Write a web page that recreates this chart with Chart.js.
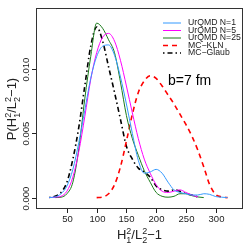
<!DOCTYPE html>
<html>
<head>
<meta charset="utf-8">
<script src="https://cdn.jsdelivr.net/npm/chart.js@4.4.1/dist/chart.umd.min.js"></script>
<style>
  html, body { margin: 0; padding: 0; background: #fff; }
  #wrap { width: 249px; height: 249px; }
</style>
</head>
<body>
<div id="wrap"><canvas id="myChart" width="249" height="249"></canvas></div>
<script>
// x grid shared by all curves
const xValues = [20, 30, 40, 50, 60, 70, 80, 90, 100, 110, 120, 130, 140, 150, 160, 170,
                 180, 190, 200, 210, 220, 230, 240, 250, 260, 270, 280, 290, 300, 310, 320];

const urqmdN1 = [0, 0.00005, 0.0003, 0.0009, 0.0022, 0.0043, 0.0068, 0.0093, 0.0110, 0.0118, 0.0119, 0.0111,
                 0.0094, 0.0073, 0.0050, 0.0029, 0.0019, 0.0020, 0.0022, 0.0019, 0.0012, 0.0006, 0.0004, 0.0003,
                 0.0002, 0.0002, 0.0003, 0.00025, 0.00008, 0.00003, 0];
const urqmdN5 = [0, 0.00003, 0.0001, 0.0005, 0.0016, 0.0036, 0.0063, 0.0092, 0.0113, 0.0125, 0.0128, 0.0122,
                 0.0107, 0.0087, 0.0066, 0.0046, 0.0030, 0.0019, 0.0010, 0.0005, 0.0004, 0.0005, 0.0006, 0.0004,
                 0.0002, 0.00005, null, null, null, null, null];
const urqmdN25 = [null, 0, 0.00003, 0.0003, 0.0012, 0.0038, 0.0077, 0.0110, 0.0136, 0.0132, 0.0123, 0.0113,
                  0.0090, 0.0064, 0.0046, 0.0033, 0.0021, 0.0012, 0.0004, 0.0001, 0.00003, 0.0001, 0.0003, 0.0003,
                  0.00015, 0.00005, 0, null, null, null, null];
const mcKLN = [null, null, null, null, null, null, null, null, 0, 0.00005, 0.0003, 0.0010,
               0.0024, 0.0044, 0.0065, 0.0082, 0.0091, 0.0095, 0.0093, 0.0087, 0.0080, 0.0073, 0.0065, 0.0057,
               0.0048, 0.0037, 0.0024, 0.0010, 0.00025, 0.00005, 0];
const mcGlaub = [0, 0.0001, 0.0004, 0.0012, 0.0030, 0.0055, 0.0087, 0.0118, 0.0133, 0.0122, 0.0102, 0.0082,
                 0.0061, 0.0040, 0.0030, 0.0023, 0.0020, 0.0016, 0.0009, 0.0006, 0.0005, 0.0006, 0.0005, 0.0003,
                 0.0002, 0.00005, null, null, null, null, null];

const seriesLabels = ['UrQMD N=1', 'UrQMD N=5', 'UrQMD N=25', 'MC\u2212KLN', 'MC\u2212Glaub'];
const xTicks = [50, 100, 150, 200, 250, 300];
const yTicks = [0, 0.005, 0.010];
const yTickLabels = ['0.000', '0.005', '0.010'];
const annotation = 'b=7 fm';

const FONT = '"Liberation Sans", Arial, sans-serif';

function pts(ys) {
  return xValues.map((x, i) => ({ x: x, y: ys[i] }));
}

function ds(label, ys, color, width, dash) {
  return {
    label: label,
    data: pts(ys),
    borderColor: color,
    borderWidth: width,
    borderDash: dash,
    pointRadius: 0,
    fill: false,
    cubicInterpolationMode: 'monotone',
    spanGaps: false
  };
}

// draws things like H_1^2 / L_2^2 - 1 with stacked sub/sup
function drawMath(ctx, parts, big, small) {
  let w = 0;
  parts.forEach(p => {
    ctx.font = (p.length > 1 ? small : big) + 'px ' + FONT;
    w += ctx.measureText(p[0]).width;
  });
  let x = -w / 2;
  parts.forEach(p => {
    if (p.length > 1) {
      ctx.font = small + 'px ' + FONT;
      ctx.fillText(p[0], x, -big * 0.42);
      ctx.fillText(p[1], x, big * 0.28);
      x += ctx.measureText(p[0]).width;
    } else {
      ctx.font = big + 'px ' + FONT;
      ctx.fillText(p[0], x, 0);
      x += ctx.measureText(p[0]).width;
    }
  });
}

const rStyle = {
  id: 'rStyle',
  afterDraw(chart) {
    const ctx = chart.ctx;
    const a = chart.chartArea;
    const xs = chart.scales.x, ys = chart.scales.y;
    ctx.save();
    // box
    ctx.strokeStyle = '#333';
    ctx.lineWidth = 1;
    ctx.strokeRect(a.left + 0.5, a.top + 0.5, a.right - a.left - 1, a.bottom - a.top - 1);

    ctx.fillStyle = '#222';
    ctx.strokeStyle = '#222';
    // x ticks
    ctx.font = '9.5px ' + FONT;
    ctx.textAlign = 'center';
    ctx.textBaseline = 'alphabetic';
    xTicks.forEach(v => {
      const px = Math.round(xs.getPixelForValue(v)) + 0.5;
      ctx.beginPath();
      ctx.moveTo(px, a.bottom);
      ctx.lineTo(px, a.bottom + 4);
      ctx.stroke();
      ctx.fillText(String(v), px, a.bottom + 13);
    });
    // y ticks, rotated labels
    yTicks.forEach((v, i) => {
      const py = Math.round(ys.getPixelForValue(v)) + 0.5;
      ctx.beginPath();
      ctx.moveTo(a.left - 4, py);
      ctx.lineTo(a.left, py);
      ctx.stroke();
      ctx.save();
      ctx.translate(a.left - 7, py);
      ctx.rotate(-Math.PI / 2);
      ctx.fillText(yTickLabels[i], 0, 0);
      ctx.restore();
    });

    // axis titles
    const xt = [['H'], ['2', '1'], ['/L'], ['2', '2'], ['\u22121']];
    ctx.save();
    ctx.translate((a.left + a.right) / 2, 239);
    ctx.textAlign = 'left';
    drawMath(ctx, xt, 13, 9);
    ctx.restore();

    const yt = [['P(H'], ['2', '1'], ['/L'], ['2', '2'], ['\u22121)']];
    ctx.save();
    ctx.translate(16, 109);
    ctx.rotate(-Math.PI / 2);
    ctx.textAlign = 'left';
    drawMath(ctx, yt, 13, 9);
    ctx.restore();

    // annotation
    ctx.font = '14px ' + FONT;
    ctx.textAlign = 'left';
    ctx.fillStyle = '#000';
    ctx.fillText(annotation, 168, 85);

    // legend
    ctx.font = '8.7px ' + FONT;
    ctx.textBaseline = 'middle';
    chart.data.datasets.forEach((d, i) => {
      const y = 23 + i * 7.5;
      ctx.strokeStyle = d.borderColor;
      ctx.lineWidth = d.borderWidth;
      ctx.setLineDash(d.borderDash || []);
      ctx.beginPath();
      ctx.moveTo(163, y);
      ctx.lineTo(181, y);
      ctx.stroke();
      ctx.setLineDash([]);
      ctx.fillStyle = '#222';
      ctx.fillText(d.label, 188, y);
    });
    ctx.restore();
  }
};

const ctx = document.getElementById('myChart').getContext('2d');
const myChart = new Chart(ctx, {
  type: 'line',
  data: {
    datasets: [
      ds(seriesLabels[0], urqmdN1, '#3399ff', 1, []),
      ds(seriesLabels[1], urqmdN5, '#ff00ff', 1, []),
      ds(seriesLabels[2], urqmdN25, '#1a7a1a', 1, []),
      ds(seriesLabels[3], mcKLN, '#ff0000', 1.6, [5, 4]),
      ds(seriesLabels[4], mcGlaub, '#000000', 1.6, [1.5, 3, 5, 3])
    ]
  },
  options: {
    responsive: false,
    animation: false,
    layout: { padding: { left: 0, top: 8, right: 6, bottom: 0 } },
    plugins: { legend: { display: false }, tooltip: { enabled: false } },
    scales: {
      x: {
        type: 'linear',
        min: -2,
        max: 346,
        grid: { display: false },
        border: { display: false },
        ticks: { display: false },
        afterFit: s => { s.height = 40; }
      },
      y: {
        min: -0.00089,
        max: 0.01478,
        grid: { display: false },
        border: { display: false },
        ticks: { display: false },
        afterFit: s => { s.width = 36; }
      }
    }
  },
  plugins: [rStyle]
});
</script>
</body>
</html>
